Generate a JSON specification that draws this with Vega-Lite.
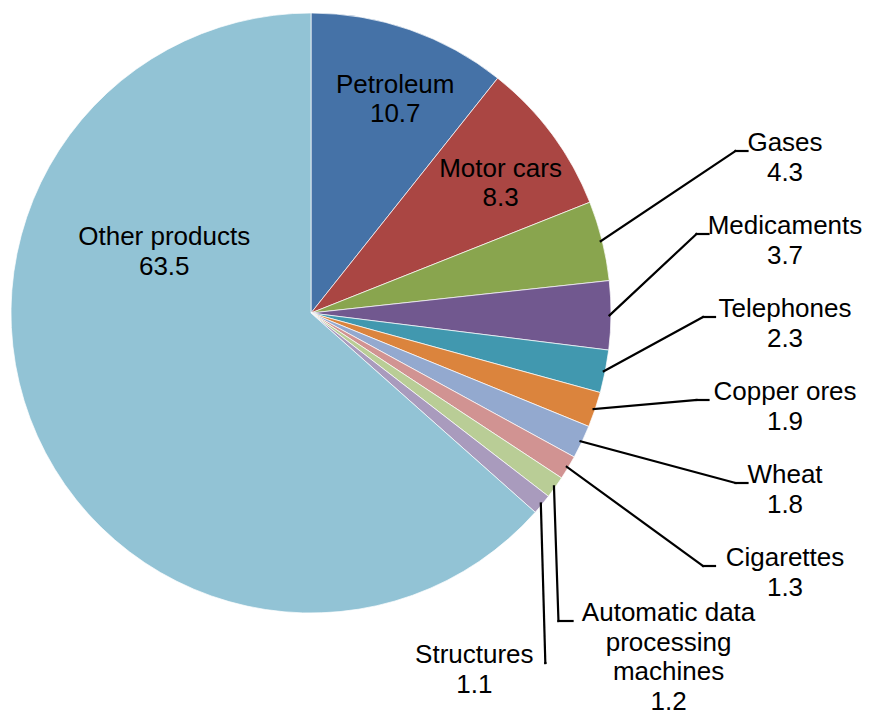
{
  "$schema": "https://vega.github.io/schema/vega-lite/v6.json",
  "width": 600,
  "height": 600,
  "autosize": "none",
  "padding": {"left": 11, "top": 13, "right": 261, "bottom": 102},
  "background": "white",
  "config": {"view": {"stroke": null}, "font": "Liberation Sans"},
  "data": {
    "values": [
      {"order": 1, "category": "Petroleum", "value": 10.7},
      {"order": 2, "category": "Motor cars", "value": 8.3},
      {"order": 3, "category": "Gases", "value": 4.3},
      {"order": 4, "category": "Medicaments", "value": 3.7},
      {"order": 5, "category": "Telephones", "value": 2.3},
      {"order": 6, "category": "Copper ores", "value": 1.9},
      {"order": 7, "category": "Wheat", "value": 1.8},
      {"order": 8, "category": "Cigarettes", "value": 1.3},
      {"order": 9, "category": "Automatic data\nprocessing\nmachines", "value": 1.2},
      {"order": 10, "category": "Structures", "value": 1.1},
      {"order": 11, "category": "Other products", "value": 63.5}
    ]
  },
  "transform": [
    {"window": [{"op": "sum", "field": "value", "as": "cum"}], "sort": [{"field": "order"}], "frame": [null, 0]},
    {"joinaggregate": [{"op": "sum", "field": "value", "as": "total"}]},
    {"calculate": "2*PI*(datum.cum - datum.value/2)/datum.total", "as": "a"},
    {"calculate": "datum.category + '\\n' + format(datum.value, '.1f')", "as": "lbl"}
  ],
  "layer": [
    {
      "mark": {"type": "arc", "outerRadius": 300, "stroke": "#ffffff", "strokeWidth": 0.7},
      "encoding": {
        "theta": {"field": "value", "type": "quantitative", "stack": true},
        "order": {"field": "order", "type": "quantitative"},
        "color": {
          "field": "category",
          "type": "nominal",
          "legend": null,
          "scale": {
            "domain": ["Petroleum", "Motor cars", "Gases", "Medicaments", "Telephones", "Copper ores", "Wheat", "Cigarettes", "Automatic data\nprocessing\nmachines", "Structures", "Other products"],
            "range": ["#4572A7", "#AA4643", "#89A54E", "#71588F", "#4198AF", "#DB843D", "#93A9CF", "#D19392", "#B9CD96", "#A99BBD", "#92C3D5"]
          }
        }
      }
    },
    {
      "transform": [
        {"filter": "datum.value >= 5"},
        {"calculate": "datum.value > 50 ? 0.817 : 0.04", "as": "off"},
        {"calculate": "datum.value > 50 ? 0.53 : 0.765", "as": "r"},
        {"calculate": "datum.r*sin(datum.a + datum.off)", "as": "lx"},
        {"calculate": "datum.r*cos(datum.a + datum.off) + 14.75/300", "as": "ly"}
      ],
      "mark": {"type": "text", "align": "center", "baseline": "middle", "fontSize": 26, "lineHeight": 29.5, "lineBreak": "\n", "color": "#000000"},
      "encoding": {
        "x": {"field": "lx", "type": "quantitative", "axis": null, "scale": {"domain": [-1, 1], "nice": false, "zero": false}},
        "y": {"field": "ly", "type": "quantitative", "axis": null, "scale": {"domain": [-1, 1], "nice": false, "zero": false}},
        "text": {"field": "lbl"}
      }
    },
    {
      "transform": [
        {"filter": "datum.value < 5"},
        {"calculate": "datum.order - 3", "as": "j"},
        {"calculate": "0.995*sin(datum.a)", "as": "ex"},
        {"calculate": "0.995*cos(datum.a)", "as": "ey"},
        {"calculate": "length(split(datum.category, '\\n')[0]) * 6.5 / 300", "as": "hw"},
        {"calculate": "datum.j <= 5 ? (162 - 83*datum.j)/300 : (313 - 621 - 42*(datum.j - 6))/300", "as": "ky"},
        {"calculate": "datum.j <= 5 ? 457/300 - datum.hw : datum.ex + 0.015", "as": "kx"},
        {"calculate": "datum.j <= 5 ? datum.kx + 0.04 : (datum.j == 6 ? datum.kx + 0.047 : datum.kx)", "as": "endx"},
        {"calculate": "datum.j <= 5 ? 1.58 : (datum.j == 6 ? datum.endx + 5/300 + datum.hw : datum.kx - 6/300 - datum.hw)", "as": "lx"}
      ],
      "layer": [
        {
          "mark": {"type": "rule", "color": "#000000", "strokeWidth": 2.2, "strokeCap": "square"},
          "encoding": {
            "x": {"field": "ex", "type": "quantitative", "axis": null, "scale": {"domain": [-1, 1], "nice": false, "zero": false}},
            "y": {"field": "ey", "type": "quantitative", "axis": null, "scale": {"domain": [-1, 1], "nice": false, "zero": false}},
            "x2": {"field": "kx"},
            "y2": {"field": "ky"}
          }
        },
        {
          "mark": {"type": "rule", "color": "#000000", "strokeWidth": 2.2, "strokeCap": "square"},
          "encoding": {
            "x": {"field": "kx", "type": "quantitative", "axis": null, "scale": {"domain": [-1, 1], "nice": false, "zero": false}},
            "y": {"field": "ky", "type": "quantitative", "axis": null, "scale": {"domain": [-1, 1], "nice": false, "zero": false}},
            "x2": {"field": "endx"}
          }
        },
        {
          "mark": {"type": "text", "align": "center", "baseline": "alphabetic", "fontSize": 26, "lineHeight": 29.5, "lineBreak": "\n", "color": "#000000"},
          "encoding": {
            "x": {"field": "lx", "type": "quantitative", "axis": null, "scale": {"domain": [-1, 1], "nice": false, "zero": false}},
            "y": {"field": "ky", "type": "quantitative", "axis": null, "scale": {"domain": [-1, 1], "nice": false, "zero": false}},
            "text": {"field": "lbl"}
          }
        }
      ]
    }
  ]
}
